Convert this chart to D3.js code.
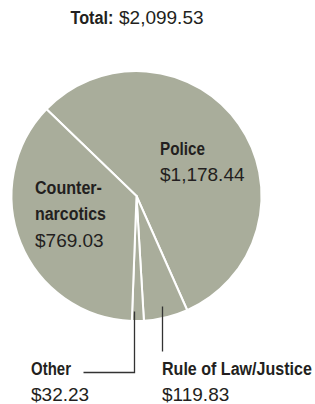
<!DOCTYPE html>
<html><head><meta charset="utf-8">
<script src="https://cdn.jsdelivr.net/npm/d3@7"></script>
<style>
html,body{margin:0;padding:0;background:#fff;}
svg{display:block;}
.b{font-family:"Liberation Sans",Arial,sans-serif;font-weight:bold;font-size:19px;fill:#231f20;}
.r{font-family:"Liberation Sans",Arial,sans-serif;font-size:19px;fill:#231f20;}
</style></head><body>
<script>
const categories = ["Police", "Rule of Law/Justice", "Other", "Counter-narcotics"];
const values = [1178.44, 119.83, 32.23, 769.03];
const valueLabels = ["$1,178.44", "$119.83", "$32.23", "$769.03"];
const totalLabel = "$2,099.53";

const W = 315, H = 404;
const cx = 136.5, cy = 196, R = 125;
const startDeg = -46;

const svg = d3.select("body").append("svg").attr("width", W).attr("height", H);

const pie = d3.pie().sort(null).value(d => d)
  .startAngle(startDeg * Math.PI / 180)
  .endAngle((startDeg + 360) * Math.PI / 180);
const arcs = pie(values);
const arc = d3.arc().innerRadius(0).outerRadius(R);

const g = svg.append("g").attr("transform", `translate(${cx},${cy})`);
g.selectAll("path").data(arcs).join("path")
  .attr("d", arc)
  .attr("fill", "#a9ad9b")
  .attr("stroke", "#fff")
  .attr("stroke-width", 2)
  .attr("stroke-linejoin", "round");

// condensed bold text: horizontally scaled to the target width
function bold(x, y, s, w) {
  const t = svg.append("text").attr("class", "b").attr("x", 0).attr("y", 0).text(s);
  const natural = t.node().getComputedTextLength() || w;
  t.attr("transform", `translate(${x},${y}) scale(${w / natural},1)`);
  return t;
}
function reg(x, y, s) {
  return svg.append("text").attr("class", "r").attr("x", x).attr("y", y).text(s);
}

// Total
bold(70.5, 24, "Total:", 43);
reg(119, 24, totalLabel);

// Police
bold(160, 155, "Police", 45);
reg(160, 181, valueLabels[0]);
// Counter-narcotics
bold(35, 194, "Counter-", 67);
bold(35, 220, "narcotics", 71);
reg(35, 246.5, valueLabels[3]);
// Other
bold(31, 375, "Other", 40);
reg(31, 401, valueLabels[2]);
// Rule of Law/Justice
bold(162, 375, "Rule of Law/Justice", 150);
reg(162, 401, valueLabels[1]);

// leader lines
svg.append("path").attr("d", "M134.5,311.5V372.5H83.5")
  .attr("fill", "none").attr("stroke", "#333").attr("stroke-width", 1.3);
svg.append("path").attr("d", "M162.5,306.5V351.5")
  .attr("fill", "none").attr("stroke", "#333").attr("stroke-width", 1.3);
</script>
</body></html>
